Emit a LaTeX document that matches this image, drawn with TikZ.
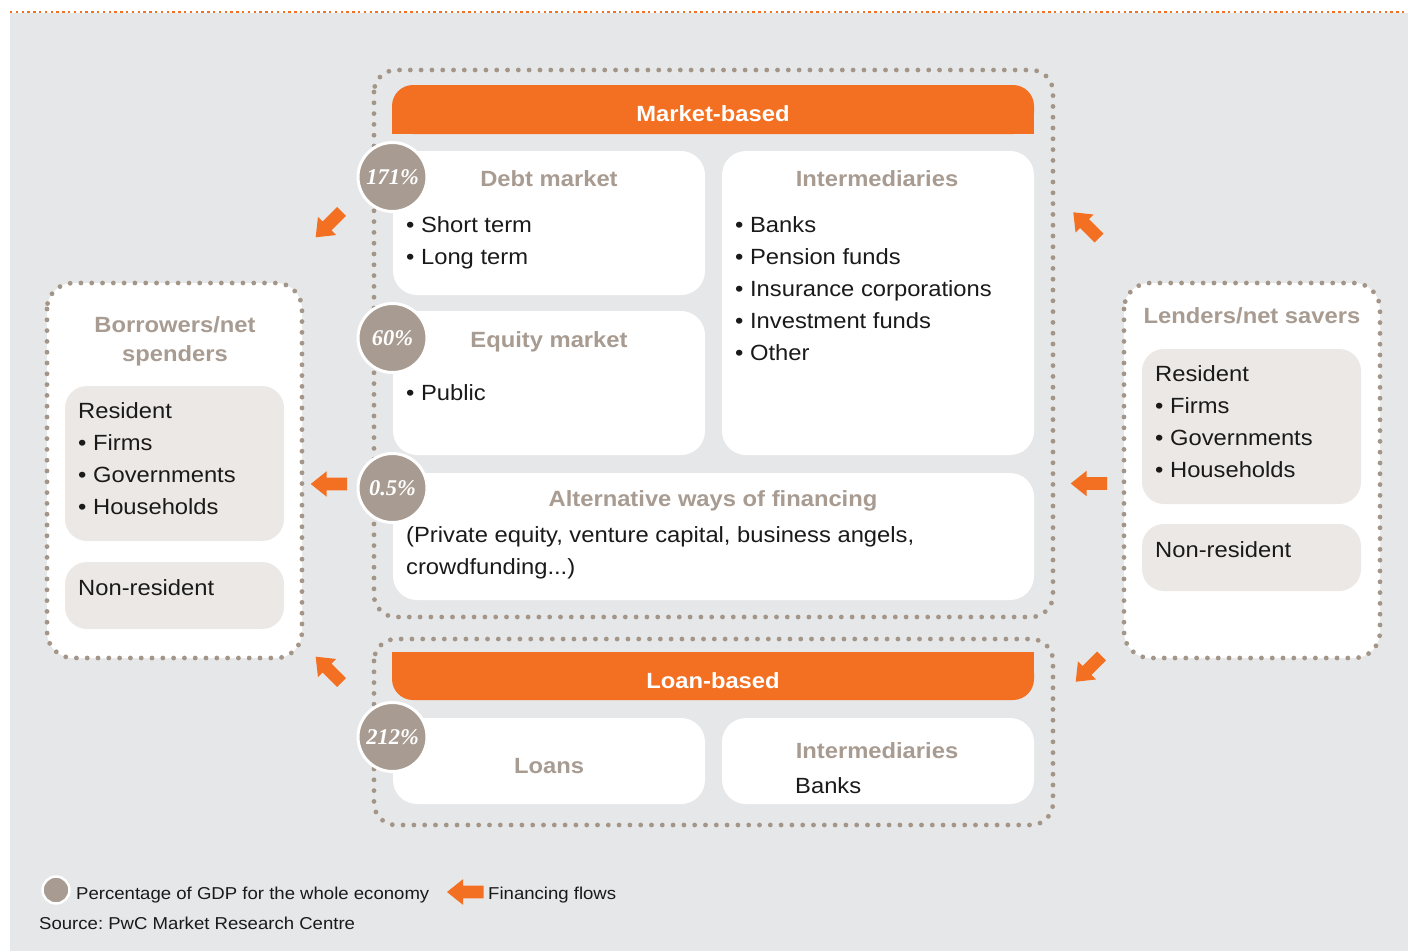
\documentclass[tikz,border=0pt]{standalone}
\usepackage{fontspec}
\setmainfont{Liberation Sans}[FakeStretch=1.08]
\newfontfamily\pctfont{Liberation Serif}
\definecolor{pagebg}{HTML}{E6E7E8}
\definecolor{flow}{HTML}{F36F21}
\definecolor{taupe}{HTML}{A89B91}
\definecolor{dotgrey}{HTML}{A39588}
\definecolor{boxgrey}{HTML}{ECE8E5}
\definecolor{ink}{HTML}{1A1A1A}
\frenchspacing
\begin{document}
\begin{tikzpicture}[x=1pt,y=-1pt,
  dots/.style={draw=dotgrey, line width=4.8pt, dash pattern=on 0pt off 10.8pt, line cap=round, rounded corners=22pt},
  panel/.style={fill=white, rounded corners=24pt},
  subpanel/.style={fill=boxgrey, rounded corners=22pt},
  ttl/.style={font=\bfseries\fontsize{22}{26}\selectfont, text=taupe, anchor=base, inner sep=0pt},
  hdr/.style={font=\bfseries\fontsize{22}{26}\selectfont, text=white, anchor=base, inner sep=0pt},
  body/.style={font=\fontsize{22}{26}\selectfont, text=ink, anchor=base west, inner sep=0pt},
  legend/.style={font=\fontsize{17.2}{20}\selectfont, text=ink, anchor=base west, inner sep=0pt},
  pct/.style={circle, fill=taupe, draw=white, line width=3pt, minimum size=69pt, inner sep=0pt,
    font=\pctfont\bfseries\itshape\fontsize{22.5}{24}\selectfont, text=white},
  flowarrow/.pic={\fill[flow] (0,0) -- (16,-12.8) -- (16,-6.3) -- (36.5,-6.3) -- (36.5,6.3) -- (16,6.3) -- (16,12.8) -- cycle;}
]
\useasboundingbox (0,0) rectangle (1408,951);
\fill[white] (0,0) rectangle (1408,951);
\fill[pagebg] (10,13) rectangle (1408,951);
\draw[flow, line width=2.4pt, dash pattern=on 2.4pt off 3.4pt] (10,12) -- (1408,12);

% ---------- market-based block ----------
\draw[dots] (374,70) rectangle (1053,617);
\fill[flow, rounded corners=21pt] (392,85) rectangle (1034,134);
\fill[flow] (392,112) rectangle (1034,134);
\node[hdr] (mkt) at (713,121) {Market-based};

\fill[panel] (393,151) rectangle (705,295);
\fill[panel] (722,151) rectangle (1034,455);
\fill[panel] (393,311) rectangle (705,455);
\fill[panel] (393,473) rectangle (1034,600);

\node[ttl] (debt) at (549,186) {Debt market};
\node[body] (st) at (406,232) {• Short term};
\node[body] (lt) at (406,264) {• Long term};

\node[ttl] (inter) at (877,186) {Intermediaries};
\node[body] (i1) at (735,232) {• Banks};
\node[body] (i2) at (735,264) {• Pension funds};
\node[body] (i3) at (735,296) {• Insurance corporations};
\node[body] (i4) at (735,328) {• Investment funds};
\node[body] (i5) at (735,360) {• Other};

\node[ttl] (equity) at (549,347) {Equity market};
\node[body] (pub) at (406,400) {• Public};

\node[ttl] (alt) at (713,506) {Alternative ways of financing};
\node[body] (alt1) at (406,542) {(Private equity, venture capital, business angels,};
\node[body] (alt2) at (406,574) {crowdfunding...)};

% ---------- loan-based block ----------
\draw[dots] (374,639) rectangle (1053,825);
\fill[flow, rounded corners=21pt] (392,652) rectangle (1034,700);
\fill[flow] (392,652) rectangle (1034,675);
\node[hdr] (loanhdr) at (713,688) {Loan-based};

\fill[panel] (393,718) rectangle (705,804);
\fill[panel] (722,718) rectangle (1034,804);
\node[ttl] (loans) at (549,773) {Loans};
\node[ttl] (linter) at (877,758) {Intermediaries};
\node[body] (lbanks) at (795,793) {Banks};

% ---------- share of GDP ----------
\node[pct] (p1) at (392.5,177) {171\%};
\node[pct] (p2) at (392.5,338) {60\%};
\node[pct] (p3) at (392.5,488) {0.5\%};
\node[pct] (p4) at (392.5,737) {212\%};

% ---------- borrowers ----------
\draw[dots, fill=white, rounded corners=26pt] (47,283) rectangle (302,658);
\node[ttl] (bor1) at (175,332) {Borrowers/net};
\node[ttl] (bor2) at (175,361) {spenders};
\fill[subpanel] (65,386) rectangle (284,541);
\node[body] (br0) at (78,418) {Resident};
\node[body] (br1) at (78,450) {• Firms};
\node[body] (br2) at (78,482) {• Governments};
\node[body] (br3) at (78,514) {• Households};
\fill[subpanel] (65,562) rectangle (284,629);
\node[body] (bnr) at (78,595) {Non-resident};

% ---------- lenders ----------
\draw[dots, fill=white, rounded corners=26pt] (1124,283) rectangle (1380,658);
\node[ttl] (len) at (1252,323) {Lenders/net savers};
\fill[subpanel] (1142,349) rectangle (1361,504);
\node[body] (lr0) at (1155,381) {Resident};
\node[body] (lr1) at (1155,413) {• Firms};
\node[body] (lr2) at (1155,445) {• Governments};
\node[body] (lr3) at (1155,477) {• Households};
\fill[subpanel] (1142,524) rectangle (1361,591);
\node[body] (lnr) at (1155,557) {Non-resident};

% ---------- financing flows ----------
\pic[rotate=45] at (315.7,237.3) {flowarrow};
\pic[rotate=-45] at (1073.3,212.3) {flowarrow};
\pic at (310.7,484) {flowarrow};
\pic at (1070.7,483.5) {flowarrow};
\pic[rotate=-45] at (315.7,656.7) {flowarrow};
\pic[rotate=45] at (1075.7,681.7) {flowarrow};

% ---------- legend ----------
\node[circle, fill=taupe, draw=white, line width=2.5pt, minimum size=27pt, inner sep=0pt] (keycirc) at (56,890) {};
\node[legend] (keytxt) at (76,899) {Percentage of GDP for the whole economy};
\pic at (447,892) {flowarrow};
\node[legend] (flowtxt) at (488,899) {Financing flows};
\node[legend] (src) at (39,929) {Source: PwC Market Research Centre};
\end{tikzpicture}
\end{document}
